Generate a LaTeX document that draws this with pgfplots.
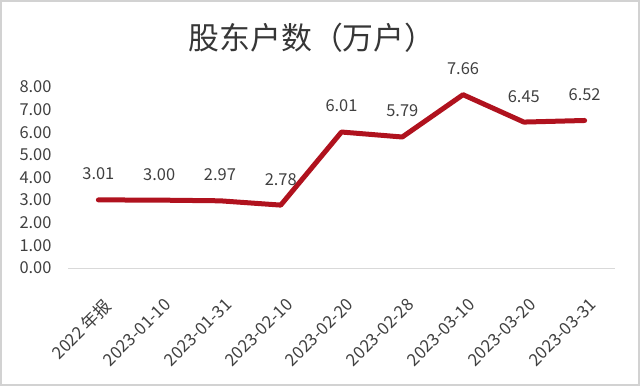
\documentclass[border=0pt]{standalone}
\usepackage{pgfplots}
\pgfplotsset{compat=1.18}
\usepackage{fontspec}
\setmainfont{Noto Sans CJK SC}
\definecolor{linered}{RGB}{176,18,30}
\definecolor{txt}{RGB}{64,64,64}
\begin{document}
\begin{tikzpicture}[x=1bp,y=1bp]
\path[use as bounding box] (0,0) rectangle (640,386);
\draw[gray!35,line width=1.2bp] (1,1) rectangle (639,385);
\node[font=\fontsize{31}{33}\selectfont,text=txt!85!black] at (312,348) {股东户数（万户）};
\begin{axis}[
  at={(68bp,118bp)}, anchor=south west,
  scale only axis, width=547bp, height=181bp,
  xmin=-0.5, xmax=8.5, ymin=0, ymax=8,
  axis x line*=bottom, axis y line=none,
  x axis line style={draw=gray!30,line width=1bp,-},
  xtick=data, xtick style={draw=none},
  xticklabels={2022 年报,2023-01-10,2023-01-31,2023-02-10,2023-02-20,2023-02-28,2023-03-10,2023-03-20,2023-03-31},
  xticklabel style={rotate=45,anchor=north east,font=\fontsize{17}{19}\selectfont,text=txt,xshift=-14bp,yshift=-20bp},
  clip=false,
  nodes near coords,
  point meta=explicit symbolic,
  every node near coord/.append style={font=\fontsize{16.5}{18}\selectfont,text=txt,yshift=14bp},
  /pgf/number format/assume math mode=true,
]
\addplot[linered,line width=5bp,line cap=round,line join=round,mark=none] table[meta=lab] {
x y lab
0 3.01 3.01
1 3.00 3.00
2 2.97 2.97
3 2.78 2.78
4 6.01 6.01
5 5.79 5.79
6 7.66 7.66
7 6.45 6.45
8 6.52 6.52
};
\pgfplotsinvokeforeach{0,1,2,3,4,5,6,7,8}{
  \node[anchor=east,font=\fontsize{16.5}{18}\selectfont,text=txt] at (axis cs:-0.5,#1) [xshift=-13bp] {\pgfmathprintnumber[fixed,precision=2,zerofill,assume math mode=true]{#1}};
}
\end{axis}
\end{tikzpicture}
\end{document}
